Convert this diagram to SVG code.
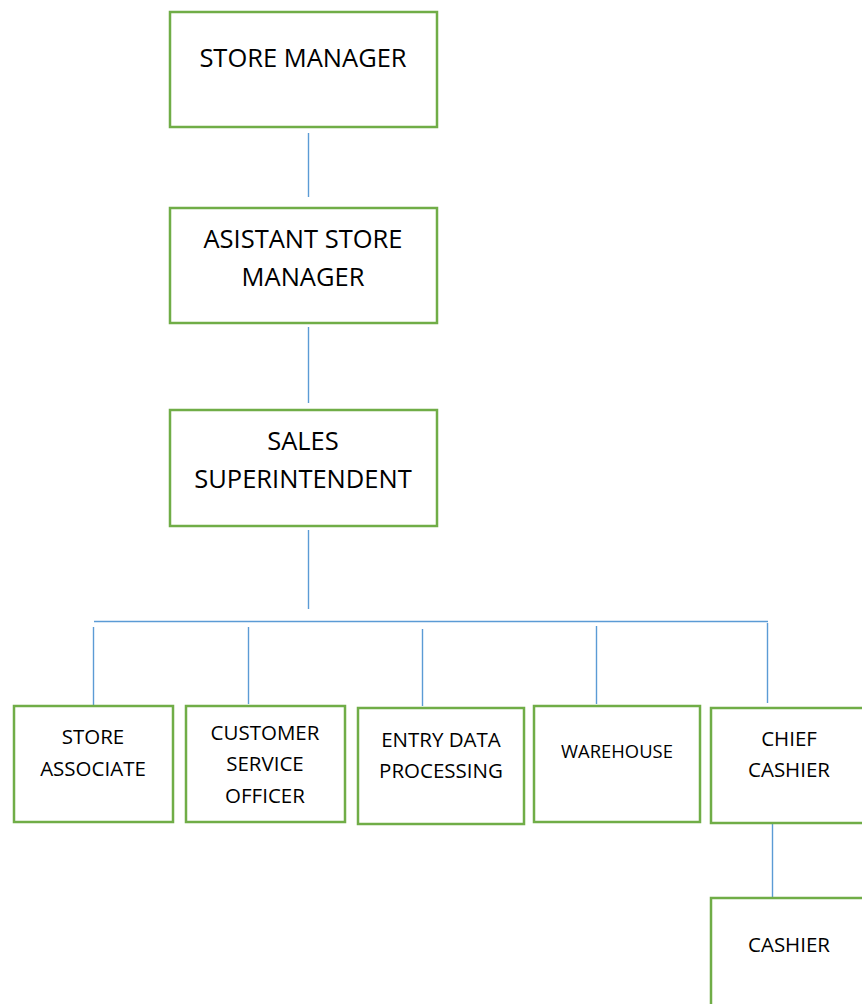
<svg xmlns="http://www.w3.org/2000/svg" width="862" height="1004" viewBox="0 0 862 1004">
<style>
.box{fill:#fff;stroke:#70AD47;stroke-width:2.5}
.ln{stroke:#5B9BD5;stroke-width:1.4;fill:none}
text{font-family:"Open Sans","Liberation Sans",sans-serif;fill:#000;text-anchor:middle}
.big{font-size:25.5px}
.sm{font-size:20.5px}
.xs{font-size:18.4px}
</style>
<rect width="862" height="1004" fill="#fff"/>
<g id="connectors">
<line class="ln" x1="308.5" y1="133" x2="308.5" y2="197"/>
<line class="ln" x1="308.5" y1="327" x2="308.5" y2="403"/>
<line class="ln" x1="308.5" y1="530" x2="308.5" y2="609"/>
<line class="ln" x1="94" y1="621.5" x2="768" y2="621.5"/>
<line class="ln" x1="93.5" y1="627" x2="93.5" y2="705"/>
<line class="ln" x1="248.5" y1="627" x2="248.5" y2="704"/>
<line class="ln" x1="422.5" y1="629" x2="422.5" y2="706"/>
<line class="ln" x1="596.5" y1="626" x2="596.5" y2="704"/>
<line class="ln" x1="767.5" y1="623" x2="767.5" y2="703"/>
<line class="ln" x1="772.5" y1="824" x2="772.5" y2="897"/>
</g>
<g id="store-manager">
<rect class="box" x="170" y="12" width="267" height="115"/>
<text class="big" x="303" y="67">STORE MANAGER</text>
</g>
<g id="assistant-store-manager">
<rect class="box" x="170" y="208" width="267" height="115"/>
<text class="big" x="303" y="248">ASISTANT STORE</text>
<text class="big" x="303" y="286">MANAGER</text>
</g>
<g id="sales-superintendent">
<rect class="box" x="170" y="410" width="267" height="116"/>
<text class="big" x="303" y="450">SALES</text>
<text class="big" x="303" y="488">SUPERINTENDENT</text>
</g>
<g id="store-associate">
<rect class="box" x="14" y="706" width="159" height="116"/>
<text class="sm" x="93" y="744">STORE</text>
<text class="sm" x="93" y="776">ASSOCIATE</text>
</g>
<g id="customer-service-officer">
<rect class="box" x="186" y="706" width="159" height="116"/>
<text class="sm" x="265" y="740">CUSTOMER</text>
<text class="sm" x="265" y="771">SERVICE</text>
<text class="sm" x="265" y="803">OFFICER</text>
</g>
<g id="entry-data-processing">
<rect class="box" x="358" y="708" width="166" height="116"/>
<text class="sm" x="441" y="747">ENTRY DATA</text>
<text class="sm" x="441" y="778">PROCESSING</text>
</g>
<g id="warehouse">
<rect class="box" x="534" y="706" width="166" height="116"/>
<text class="xs" x="617" y="758">WAREHOUSE</text>
</g>
<g id="chief-cashier">
<rect class="box" x="711" y="708" width="160" height="115"/>
<text class="sm" x="789" y="746">CHIEF</text>
<text class="sm" x="789" y="777">CASHIER</text>
</g>
<g id="cashier">
<rect class="box" x="711" y="898" width="160" height="120"/>
<text class="sm" x="789" y="952">CASHIER</text>
</g>
</svg>
